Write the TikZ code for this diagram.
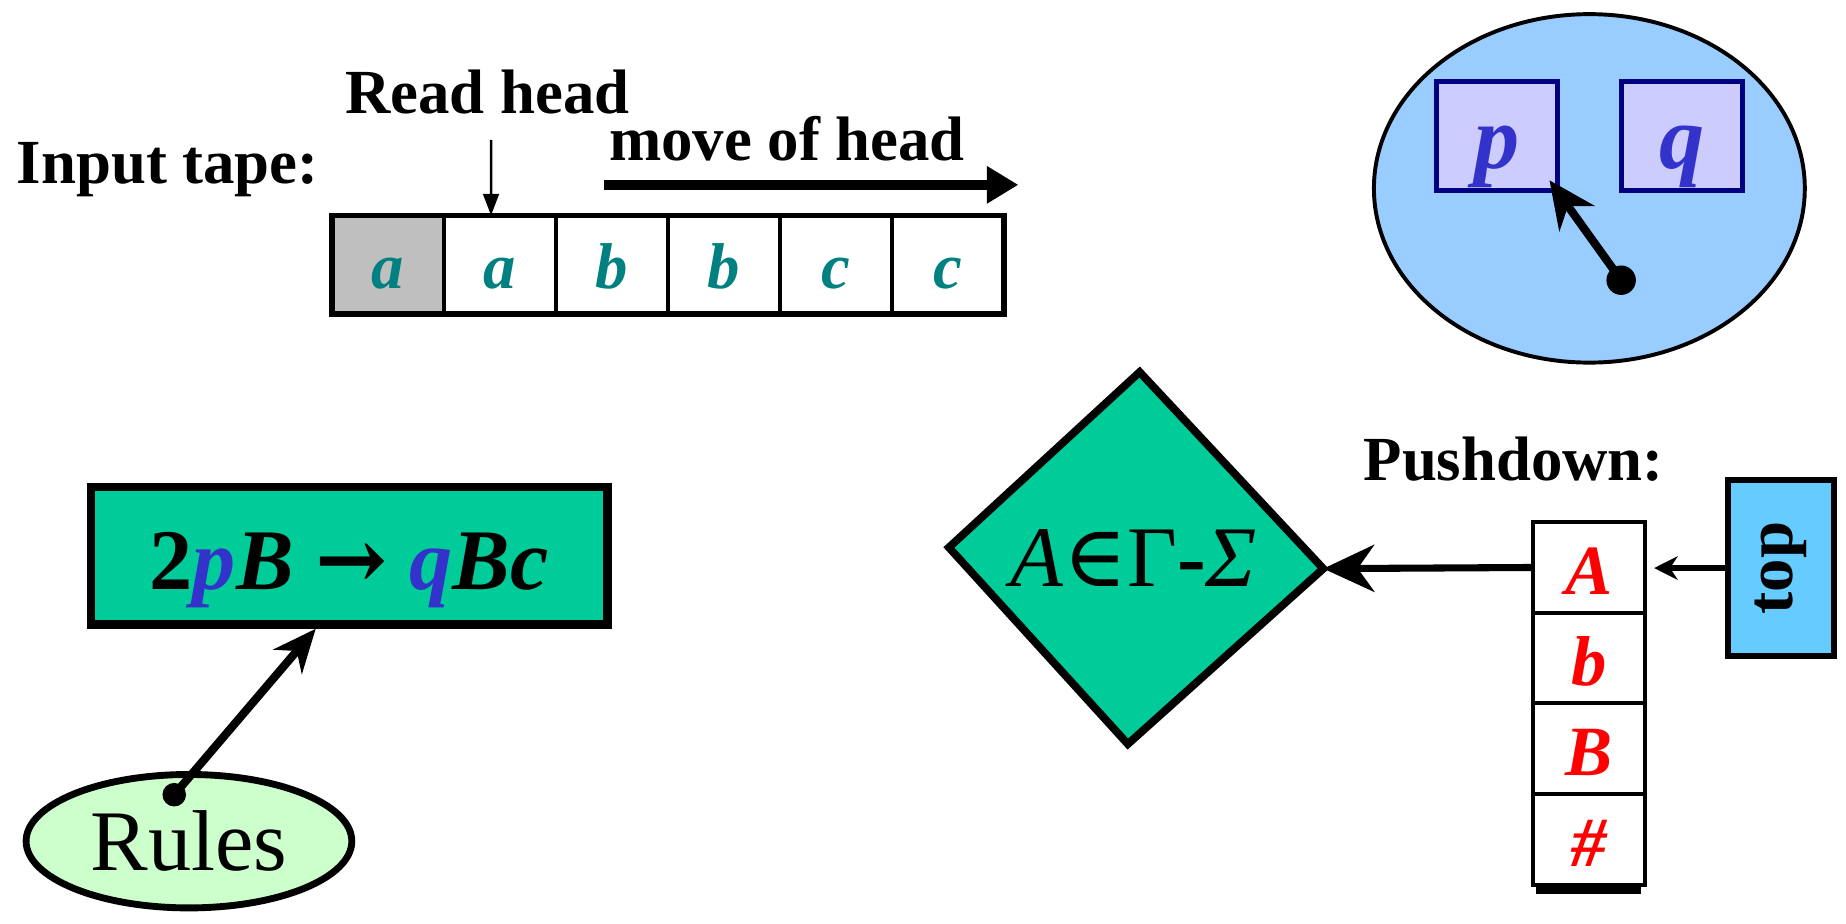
\documentclass[tikz,border=0pt]{standalone}
\usepackage{fontspec}
\setmainfont{Liberation Serif}
\newfontfamily\symfont{DejaVu Serif}
\usetikzlibrary{shapes.geometric, positioning, arrows.meta}
\definecolor{tapeink}{HTML}{008080}
\definecolor{stateink}{HTML}{3333CC}
\definecolor{stateedge}{HTML}{000080}
\definecolor{statefill}{HTML}{CCCCFF}
\definecolor{ctrlfill}{HTML}{99CCFF}
\definecolor{rulefill}{HTML}{00CC99}
\definecolor{rulesfill}{HTML}{CCFFCC}
\definecolor{topfill}{HTML}{66CCFF}
\tikzset{
    >=Stealth,
    caption/.style={anchor=base west, inner sep=0pt,
        font=\fontsize{32}{38}\selectfont\bfseries},
    cell/.style={draw, line width=2pt, minimum width=57.1pt,
        minimum height=50.4pt, inner sep=0pt, outer sep=0pt, text=tapeink,
        text height=24pt, text depth=0pt,
        font=\fontsize{33}{38}\selectfont\bfseries\itshape},
    stackcell/.style={cell, minimum width=57pt, minimum height=46.2pt,
        text=red, text height=27.6pt,
        font=\fontsize{36}{42}\selectfont\bfseries\itshape},
    statebox/.style={draw=stateedge, fill=statefill, line width=2.5pt,
        minimum width=61.8pt, minimum height=55.8pt, inner sep=0pt,
        text height=32.8pt, text depth=0pt,
        text=stateink, font=\fontsize{46}{52}\selectfont\bfseries\itshape},
    bigfont/.style={font=\fontsize{44}{50}\selectfont},
}

\begin{document}
\begin{tikzpicture}[x=0.6pt, y=-0.6pt]
    \useasboundingbox (0,0) rectangle (1568,784);

    % input tape
    \node[caption] (it) at (14,156) {Input tape:};
    \node[caption] (rh) at (293,96) {Read head};
    \node[caption] (mh) at (517,136) {move of head};
    \node[cell, fill=gray!50] (t1) at (329.6,225) {a};
    \node[cell, right=0pt of t1] (t2) {a};
    \node[cell, right=0pt of t2] (t3) {b};
    \node[cell, right=0pt of t3] (t4) {b};
    \node[cell, right=0pt of t4] (t5) {c};
    \node[cell, right=0pt of t5] (t6) {c};
    \draw[line width=3pt] (t1.north west) rectangle (t6.south east);
    \draw[->, line width=1.3pt, >={Triangle[length=11pt, width=8pt]}]
        ([shift={(3,22)}]rh.south) -- ([xshift=1.8pt]rh.south |- t2.north);
    \coordinate (mv0) at (513,157);
    \coordinate (mv1) at (865,157);
    \draw[->, line width=5pt, >={Triangle[length=16pt, width=18pt]}]
        (mv0) -- (mv1);

    % finite control
    \node[ellipse, draw, fill=ctrlfill, line width=2pt,
        minimum width=219.6pt, minimum height=177.6pt] (ctrl) at (1350,160) {};
    \node[statebox] (p) at (1271.5,115.5) {p};
    \node[statebox] (q) at (1428.5,115.5) {q};
    \node[circle, fill, inner sep=0pt, minimum size=15pt] (pin) at (1377,238) {};
    \draw[->, line width=4.2pt, >={Stealth[length=24pt, width=22pt]}]
        (pin.center) -- ([shift={(-9,-11)}]p.south east);

    % rule
    \node[draw, fill=rulefill, line width=4.5pt, minimum width=263pt,
        minimum height=70pt, inner sep=0pt, text height=34pt, text depth=0pt,
        font=\fontsize{44}{50}\selectfont\bfseries] (rule) at (296.5,472)
        {2\textcolor{stateink}{\textit{p}}\textit{B} {\symfont →}
         \textcolor{stateink}{\textit{q}}\textit{Bc}};
    \node[ellipse, draw, fill=rulesfill, line width=3.5pt, minimum width=166pt,
        minimum height=68pt, bigfont] (rules) at (160.5,714.5) {Rules};
    \node[circle, fill, inner sep=0pt, minimum size=12pt] (rdot) at (148,675) {};
    \draw[->, line width=4.2pt, >={Stealth[length=22pt, width=19pt]}]
        (rdot.center) -- ([xshift=-17pt]rule.south);

    % symbol check
    \coordinate (dt) at (968,316);
    \coordinate (dr) at (1124,483);
    \coordinate (db) at (958,632);
    \coordinate (dl) at (806,465);
    \draw[fill=rulefill, line width=4pt, line join=miter]
        (dt) -- (dr) -- (db) -- (dl) -- cycle;
    \node[bigfont] (sym) at (963,474)
        {\textit{A}{\symfont ∈}Γ\textbf{-}\textit{Σ}};

    % pushdown
    \node[caption] (pd) at (1158,408) {Pushdown:};
    \node[stackcell] (s1) at (1349.5,482) {A};
    \node[stackcell, below=0pt of s1] (s2) {b};
    \node[stackcell, below=0pt of s2] (s3) {B};
    \node[stackcell, below=0pt of s3] (s4) {\#};
    \draw[line width=5pt] ([shift={(3,4)}]s4.south west)
        -- ([shift={(-3,4)}]s4.south east);
    \node[draw, fill=topfill, line width=3pt, minimum width=54pt,
        minimum height=89.4pt, inner sep=0pt,
        font=\fontsize{34}{40}\selectfont\bfseries] (tos) at (1513,482.5)
        {\rotatebox{90}{top}};
    \draw[->, line width=3pt, >={Stealth[length=12pt, width=12pt]},
        shorten >=4.8pt] (tos.west) -- (s1.east |- tos.west);
    \draw[->, line width=3.6pt, >={Stealth[length=26pt, width=24pt]}]
        (s1.west) -- (dr);
\end{tikzpicture}
\end{document}
